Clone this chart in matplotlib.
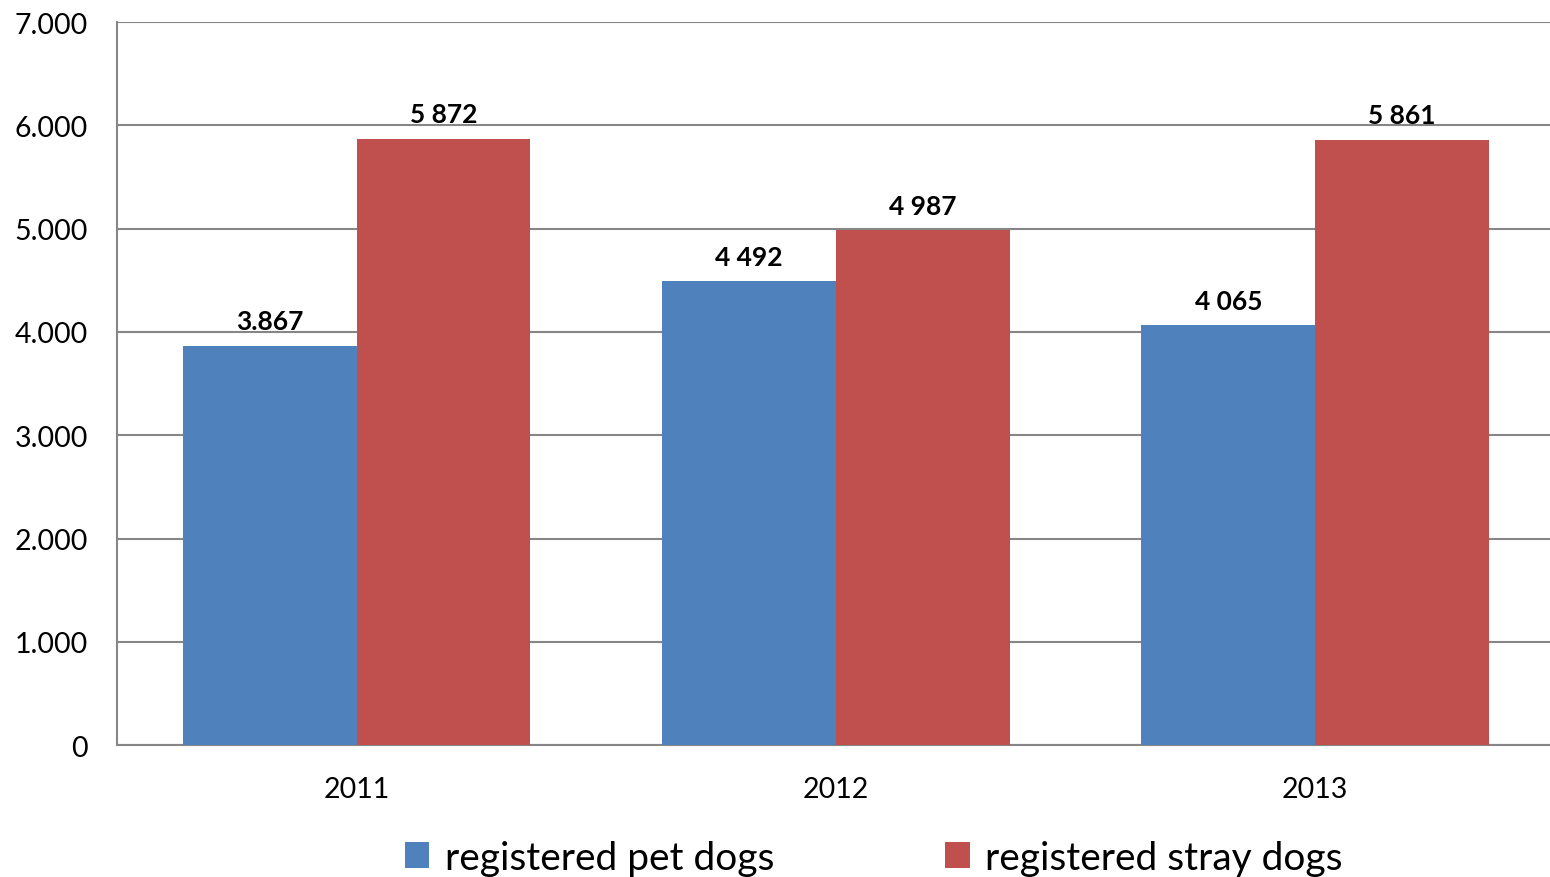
import numpy as np
import matplotlib.pyplot as plt

# Данные
years = ["2011", "2012", "2013"]
pet_dogs = [3867, 4492, 4065]
stray_dogs = [5872, 4987, 5861]
pet_labels = ["3.867", "4 492", "4 065"]
stray_labels = ["5 872", "4 987", "5 861"]
y_ticks = [0, 1000, 2000, 3000, 4000, 5000, 6000, 7000]
y_tick_labels = ["0", "1.000", "2.000", "3.000", "4.000", "5.000", "6.000", "7.000"]

blue = "#4f81bd"
red = "#c0504d"
grid_color = "#868686"

plt.rcParams["font.family"] = ["Lato", "DejaVu Sans"]

fig = plt.figure(figsize=(15.5, 8.78), dpi=100)
ax = fig.add_axes([0.0755, 0.150, 0.9245, 0.8238])

x = np.arange(len(years))
w = 0.3625
ax.bar(x - w / 2, pet_dogs, w, color=blue, label="registered pet dogs", zorder=3)
ax.bar(x + w / 2, stray_dogs, w, color=red, label="registered stray dogs", zorder=3)

for xi, v, lab in zip(x - w / 2, pet_dogs, pet_labels):
    ax.text(xi, v + 120, lab, ha="center", va="bottom", fontsize=19, fontweight="bold")
for xi, v, lab in zip(x + w / 2, stray_dogs, stray_labels):
    ax.text(xi, v + 120, lab, ha="center", va="bottom", fontsize=19, fontweight="bold")

ax.set_xlim(-0.5, 2.49)
ax.set_ylim(0, 7000)
ax.set_yticks(y_ticks)
ax.set_yticklabels(y_tick_labels, fontsize=20.5)
ax.set_xticks(x)
ax.set_xticklabels(years, fontsize=20.5)
ax.tick_params(axis="y", length=0, pad=21)
ax.tick_params(axis="x", length=0, pad=22)

ax.grid(axis="y", color=grid_color, linewidth=1.5, zorder=0)
for s in ["top", "right"]:
    ax.spines[s].set_visible(False)
for s in ["left", "bottom"]:
    ax.spines[s].set_color(grid_color)
    ax.spines[s].set_linewidth(1.5)

fig.legend(*ax.get_legend_handles_labels(), loc="center",
           bbox_to_anchor=(874 / 1550, 0.022), ncol=2, frameon=False,
           fontsize=28, handlelength=0.62, handleheight=0.62, columnspacing=4.4,
           handletextpad=0.4)

fig.savefig("out.png", dpi=100)
